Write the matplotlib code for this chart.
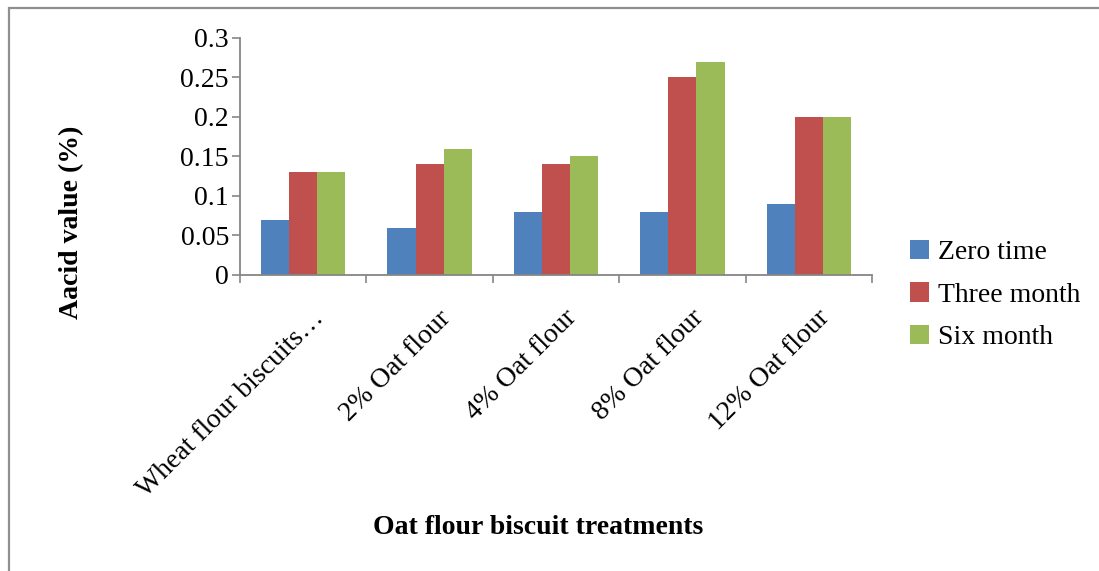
import matplotlib
matplotlib.use("Agg")
import matplotlib.pyplot as plt
from matplotlib.patches import Rectangle, Patch

plt.rcParams['font.family'] = ['Liberation Serif', 'DejaVu Serif']

categories = ["Wheat flour biscuits…", "2% Oat flour", "4% Oat flour",
              "8% Oat flour", "12% Oat flour"]
series_names = ["Zero time", "Three month", "Six month"]
zero_time = [0.07, 0.06, 0.08, 0.08, 0.09]
three_month = [0.13, 0.14, 0.14, 0.25, 0.20]
six_month = [0.13, 0.16, 0.15, 0.27, 0.20]
y_ticks = [0, 0.05, 0.1, 0.15, 0.2, 0.25, 0.3]
y_tick_labels = ["0", "0.05", "0.1", "0.15", "0.2", "0.25", "0.3"]

colors = ["#4F81BD", "#C0504D", "#9BBB59"]
axis_gray = "#868686"

W, H = 1099, 571
fig = plt.figure(figsize=(W / 100, H / 100), dpi=100)
fig.patch.set_facecolor("white")

# chart frame (runs off the right and bottom edges)
fig.patches.append(Rectangle((9 / W, -0.05), 1.2, 1 - 8 / H + 0.05,
                             transform=fig.transFigure, fill=False,
                             edgecolor="#8f8f8f", linewidth=1.6))

ax = fig.add_axes([240 / W, 1 - 275 / H, (872 - 240) / W, (275 - 38) / H])

n = len(series_names)
bar_w = 1 / (n + 1.5)
for j, (vals, col) in enumerate(zip([zero_time, three_month, six_month], colors)):
    xs = [i + (j - (n - 1) / 2) * bar_w for i in range(len(categories))]
    ax.bar(xs, vals, width=bar_w, color=col, linewidth=0)

ax.set_xlim(-0.5, len(categories) - 0.5)
ax.set_ylim(0, 0.3)
ax.set_yticks(y_ticks)
ax.set_yticklabels(y_tick_labels, fontsize=20)
ax.tick_params(axis="y", direction="out", length=6, width=1.2, color=axis_gray, pad=2)

# category boundaries carry the tick marks; labels are placed separately
ax.set_xticks([i - 0.5 for i in range(len(categories) + 1)])
ax.set_xticklabels([])
ax.tick_params(axis="x", direction="out", length=6, width=1.2, color=axis_gray)

for side in ("top", "right"):
    ax.spines[side].set_visible(False)
for side in ("left", "bottom"):
    ax.spines[side].set_color(axis_gray)
    ax.spines[side].set_linewidth(1.3)

for i, name in enumerate(categories):
    ax.annotate(name, xy=(i, 0), xycoords=("data", "axes fraction"),
                xytext=(6, -22), textcoords="offset points",
                rotation=45, rotation_mode="anchor", ha="right", va="top",
                fontsize=20)

fig.text(72 / W, 1 - 222 / H, "Aacid value (%)", rotation=90, ha="center",
         va="center", fontsize=20, fontweight="bold")
fig.text(538 / W, 1 - 527 / H, "Oat flour biscuit treatments", ha="center",
         va="center", fontsize=20, fontweight="bold")

handles = [Patch(facecolor=c, edgecolor="none") for c in colors]
fig.legend(handles, series_names, loc="center left",
           bbox_to_anchor=(910 / W, 1 - 295 / H), bbox_transform=fig.transFigure,
           frameon=False, fontsize=20, handlelength=0.7, handleheight=0.7,
           handletextpad=0.3, labelspacing=0.62, borderpad=0, borderaxespad=0)

fig.savefig("out.png", dpi=100, facecolor="white")
